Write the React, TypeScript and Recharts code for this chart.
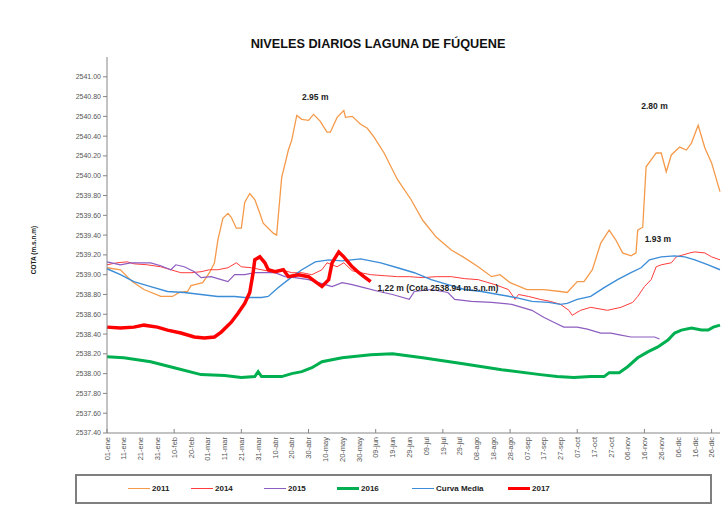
import { LineChart, Line, XAxis, YAxis, ReferenceDot } from "recharts";

// day of year (leap-year axis, 0 = 01-ene), cota in m.s.n.m
const serie2011: [number, number][] = [
	[0, 2539.07], [8, 2539.05], [15, 2538.93], [22, 2538.85], [32, 2538.78], [39, 2538.78],
	[43, 2538.82], [48, 2538.83], [50, 2538.89], [57, 2538.92], [61, 2539.02], [64, 2539.12],
	[66, 2539.35], [69, 2539.57], [72, 2539.62], [74, 2539.58], [77, 2539.47], [80, 2539.47],
	[82, 2539.73], [85, 2539.82], [88, 2539.76], [91, 2539.62], [93, 2539.52], [96, 2539.47],
	[99, 2539.42], [101, 2539.4], [104, 2539.98], [108, 2540.26], [110, 2540.36], [113, 2540.61],
	[116, 2540.57], [120, 2540.56], [123, 2540.62], [127, 2540.55], [131, 2540.44], [133, 2540.44],
	[137, 2540.59], [141, 2540.66], [142, 2540.59], [146, 2540.6], [151, 2540.52], [155, 2540.48],
	[159, 2540.39], [165, 2540.23], [173, 2539.96], [181, 2539.76], [188, 2539.55], [196, 2539.38],
	[205, 2539.25], [212, 2539.18], [221, 2539.08], [229, 2538.98], [234, 2539.0], [240, 2538.92],
	[250, 2538.85], [260, 2538.85], [270, 2538.83], [274, 2538.82], [280, 2538.93], [284, 2538.93],
	[289, 2539.05], [294, 2539.32], [299, 2539.45], [303, 2539.35], [307, 2539.22], [312, 2539.19],
	[315, 2539.22], [316, 2539.45], [319, 2539.48], [321, 2540.09], [327, 2540.23], [330, 2540.23],
	[333, 2540.04], [336, 2540.21], [341, 2540.29], [345, 2540.26], [348, 2540.33], [352, 2540.51],
	[356, 2540.28], [360, 2540.13], [365, 2539.84],
];

const serie2014: [number, number][] = [
	[0, 2539.1], [6, 2539.12], [12, 2539.13], [16, 2539.11], [24, 2539.1], [32, 2539.08],
	[38, 2539.05], [44, 2539.02], [50, 2539.02], [56, 2539.03], [61, 2539.05], [66, 2539.05],
	[72, 2539.07], [77, 2539.12], [80, 2539.08], [86, 2539.07], [92, 2539.05], [98, 2539.03],
	[104, 2539.05], [110, 2539.02], [116, 2539.02], [122, 2539.0], [128, 2539.05], [131, 2539.12],
	[137, 2539.08], [141, 2539.12], [146, 2539.04], [151, 2539.02], [157, 2539.0], [165, 2538.99],
	[173, 2538.98], [180, 2538.98], [188, 2538.97], [196, 2538.98], [205, 2538.98], [213, 2538.96],
	[221, 2538.95], [231, 2538.9], [239, 2538.85], [243, 2538.75], [245, 2538.8], [251, 2538.78],
	[258, 2538.75], [264, 2538.73], [270, 2538.7], [275, 2538.64], [277, 2538.59], [282, 2538.64],
	[288, 2538.67], [298, 2538.64], [306, 2538.67], [313, 2538.72], [316, 2538.78], [320, 2538.88],
	[324, 2538.95], [327, 2539.08], [330, 2539.1], [336, 2539.12], [339, 2539.18], [343, 2539.2],
	[347, 2539.22], [350, 2539.23], [356, 2539.22], [360, 2539.18], [365, 2539.15],
];

const serie2015: [number, number][] = [
	[0, 2539.13], [8, 2539.1], [14, 2539.12], [20, 2539.12], [26, 2539.12], [32, 2539.09],
	[38, 2539.05], [41, 2539.1], [46, 2539.08], [52, 2539.03], [56, 2538.97], [62, 2538.98],
	[68, 2538.95], [72, 2538.93], [76, 2539.0], [82, 2539.0], [88, 2539.02], [96, 2539.02],
	[100, 2539.02], [106, 2538.98], [112, 2538.97], [120, 2538.95], [126, 2538.92], [132, 2538.89],
	[134, 2538.88], [140, 2538.92], [146, 2538.9], [153, 2538.87], [162, 2538.83], [170, 2538.8],
	[180, 2538.75], [183, 2538.83], [193, 2538.85], [203, 2538.82], [207, 2538.75], [217, 2538.73],
	[229, 2538.72], [241, 2538.7], [253, 2538.64], [260, 2538.57], [266, 2538.52], [272, 2538.47],
	[280, 2538.47], [286, 2538.45], [294, 2538.41], [300, 2538.41], [306, 2538.39], [312, 2538.37],
	[318, 2538.37], [326, 2538.37], [329, 2538.35],
];

const serie2016: [number, number][] = [
	[0, 2538.17], [10, 2538.16], [26, 2538.12], [40, 2538.06], [56, 2537.99], [70, 2537.98],
	[80, 2537.96], [88, 2537.97], [90, 2538.02], [92, 2537.97], [104, 2537.97], [110, 2538.0],
	[116, 2538.02], [122, 2538.06], [128, 2538.12], [140, 2538.16], [157, 2538.19], [170, 2538.2],
	[188, 2538.16], [212, 2538.1], [235, 2538.04], [258, 2537.99], [268, 2537.97], [278, 2537.96],
	[288, 2537.97], [296, 2537.97], [299, 2538.01], [305, 2538.01], [310, 2538.07], [316, 2538.16],
	[322, 2538.22], [328, 2538.27], [334, 2538.34], [338, 2538.41], [342, 2538.44], [348, 2538.46],
	[354, 2538.44], [358, 2538.44], [361, 2538.47], [365, 2538.49],
];

const curvaMedia: [number, number][] = [
	[0, 2539.06], [8, 2539.0], [16, 2538.93], [26, 2538.88], [36, 2538.83], [46, 2538.82],
	[56, 2538.8], [66, 2538.78], [76, 2538.78], [82, 2538.77], [92, 2538.77], [96, 2538.78],
	[102, 2538.87], [108, 2538.95], [116, 2539.05], [124, 2539.13], [132, 2539.15], [140, 2539.14],
	[151, 2539.16], [163, 2539.12], [173, 2539.07], [183, 2539.02], [193, 2538.95], [203, 2538.9],
	[213, 2538.85], [223, 2538.83], [233, 2538.8], [243, 2538.77], [253, 2538.73], [263, 2538.72],
	[270, 2538.7], [274, 2538.71], [280, 2538.75], [288, 2538.78], [296, 2538.87], [304, 2538.95],
	[312, 2539.02], [318, 2539.07], [323, 2539.15], [330, 2539.18], [338, 2539.19], [344, 2539.18],
	[350, 2539.15], [358, 2539.1], [365, 2539.05],
];

const serie2017: [number, number][] = [
	[0, 2538.47], [8, 2538.46], [16, 2538.47], [22, 2538.49], [30, 2538.47], [36, 2538.44],
	[44, 2538.41], [52, 2538.37], [58, 2538.36], [64, 2538.37], [68, 2538.42], [74, 2538.52],
	[78, 2538.61], [82, 2538.71], [85, 2538.82], [87, 2539.02], [88, 2539.15], [91, 2539.18],
	[94, 2539.12], [96, 2539.05], [100, 2539.03], [105, 2539.05], [108, 2538.98], [114, 2539.0],
	[120, 2538.98], [124, 2538.93], [128, 2538.88], [132, 2538.95], [134, 2539.12], [138, 2539.23],
	[141, 2539.18], [146, 2539.08], [150, 2539.02], [153, 2538.98], [157, 2538.93],
];

const xTickLabels = [
	"01-ene", "11-ene", "21-ene", "31-ene", "10-feb", "20-feb", "01-mar", "11-mar", "21-mar",
	"31-mar", "10-abr", "20-abr", "30-abr", "10-may", "20-may", "30-may", "09-jun", "19-jun",
	"29-jun", "09-jul", "19-jul", "29-jul", "08-ago", "18-ago", "28-ago", "07-sep", "17-sep",
	"27-sep", "07-oct", "17-oct", "27-oct", "06-nov", "16-nov", "26-nov", "06-dic", "16-dic",
	"26-dic",
];
const xTicks = xTickLabels.map((_, i) => i * 10);

const yTicks = [
	2537.4, 2537.6, 2537.8, 2538.0, 2538.2, 2538.4, 2538.6, 2538.8, 2539.0, 2539.2, 2539.4,
	2539.6, 2539.8, 2540.0, 2540.2, 2540.4, 2540.6, 2540.8, 2541.0,
];

// annotations: [day, cota, text]
const notes: [number, number, string][] = [
	[124, 2540.8, "2.95 m"],
	[326, 2540.7, "2.80 m"],
	[328, 2539.36, "1.93 m"],
];
const notaCota: [number, number, string] = [161, 2538.87, "1,22 m (Cota 2538.94  m.s.n.m)"];

const series = [
	{ name: "2011", data: serie2011, color: "#F59A4A", width: 1.3 },
	{ name: "2014", data: serie2014, color: "#FF3B3B", width: 1 },
	{ name: "2015", data: serie2015, color: "#8D5CC0", width: 1.2 },
	{ name: "2016", data: serie2016, color: "#00B050", width: 3 },
	{ name: "Curva Media", data: curvaMedia, color: "#3C8DD8", width: 1.4 },
	{ name: "2017", data: serie2017, color: "#FF0000", width: 3.5 },
];
const legendX = [51, 114, 187, 260, 335, 431];

const toPoints = (rows: [number, number][]) => rows.map(([d, v]) => ({ d, v }));

function XTick(props: any) {
	const { x, y, payload, index } = props;
	return (
		<g transform={`translate(${x},${y})`}>
			{index % 4 === 0 && <line x1={0} y1={0} x2={0} y2={-4} stroke="#868686" />}
			<text
				transform="rotate(-90)"
				x={-4}
				y={2.7}
				textAnchor="end"
				fontSize={7.5}
				fill="#555"
			>
				{xTickLabels[payload.value / 10]}
			</text>
		</g>
	);
}

export default function App() {
	return (
		<div
			style={{
				position: "absolute",
				left: 0,
				top: 0,
				width: 728,
				height: 507,
				background: "#fff",
				fontFamily: "'Liberation Sans', Arial, sans-serif",
			}}
		>
			<div
				style={{
					position: "absolute",
					left: 0,
					top: 37,
					width: 756,
					textAlign: "center",
					fontSize: 12.7,
					fontWeight: "bold",
					color: "#111",
				}}
			>
				NIVELES DIARIOS LAGUNA DE FÚQUENE
			</div>
			<div
				style={{
					position: "absolute",
					left: 33,
					top: 250,
					transform: "translate(-50%, -50%) rotate(-90deg)",
					fontSize: 6.5,
					fontWeight: "bold",
					whiteSpace: "nowrap",
					color: "#222",
				}}
			>
				COTA (m.s.n.m)
			</div>
			<div style={{ position: "absolute", left: 0, top: 0 }}>
				<LineChart width={728} height={470} margin={{ top: 57, right: 8, left: 0, bottom: 0 }}>
					<XAxis
						dataKey="d"
						type="number"
						domain={[0, 365]}
						ticks={xTicks}
						interval={0}
						height={37}
						tickLine={false}
						tickSize={0}
						tickMargin={0}
						stroke="#868686"
						tick={<XTick />}
					/>
					<YAxis
						type="number"
						domain={[2537.4, 2541.2]}
						ticks={yTicks}
						interval={0}
						width={107}
						tickSize={4}
						tickMargin={2}
						stroke="#868686"
						tick={{ fontSize: 7, fill: "#555" }}
						tickFormatter={(v: number) => v.toFixed(2)}
					/>
					{series.map((s) => (
						<Line
							key={s.name}
							data={toPoints(s.data)}
							dataKey="v"
							name={s.name}
							type="linear"
							stroke={s.color}
							strokeWidth={s.width}
							dot={false}
							activeDot={false}
							isAnimationActive={false}
						/>
					))}
					{notes.map(([d, v, t]) => (
						<ReferenceDot
							key={t}
							x={d}
							y={v}
							r={0}
							stroke="none"
							label={{ value: t, position: "center", fontSize: 8.5, fontWeight: "bold", fill: "#222" }}
						/>
					))}
					<ReferenceDot
						x={notaCota[0]}
						y={notaCota[1]}
						r={0}
						stroke="none"
						label={{
							value: notaCota[2],
							position: "right",
							offset: 0,
							fontSize: 8.5,
							fontWeight: "bold",
							fill: "#222",
						}}
					/>
				</LineChart>
			</div>
			<div
				style={{
					position: "absolute",
					left: 75,
					top: 474,
					width: 633,
					height: 26,
					border: "2px solid #7f7f7f",
				}}
			>
				{series.map((s, i) => (
					<div
						key={s.name}
						style={{
							position: "absolute",
							left: legendX[i],
							top: 8,
							display: "flex",
							alignItems: "center",
							fontSize: 8,
							fontWeight: "bold",
							color: "#222",
						}}
					>
						<div style={{ width: 22, height: s.width > 2 ? 3 : 1.5, background: s.color, marginRight: 2 }} />
						<span>{s.name}</span>
					</div>
				))}
			</div>
		</div>
	);
}
